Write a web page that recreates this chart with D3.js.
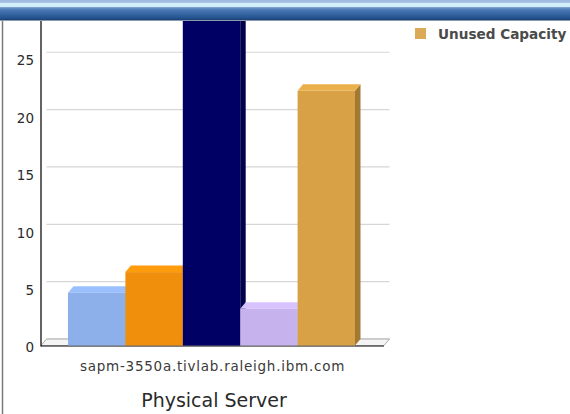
<!DOCTYPE html>
<html>
<head>
<meta charset="utf-8">
<script src="https://cdn.jsdelivr.net/npm/d3@7"></script>
<style>
  html, body { margin: 0; padding: 0; background: #ffffff; }
  svg { display: block; }
</style>
</head>
<body>
<svg id="chart" width="570" height="414"></svg>
<script>
// ---- data ----
const categories = ["sapm-3550a.tivlab.raleigh.ibm.com"];
const seriesKeys = ["s1", "s2", "s3", "s4", "Unused Capacity"];
const seriesValues = [4.6, 6.4, 36, 3.2, 22.2];
const seriesColors = ["#8db0ea", "#f08f0c", "#000064", "#c6b2ec", "#d8a145"];
const legendItems = ["Unused Capacity"];
const yTicks = [0, 5, 10, 15, 20, 25];
const xAxisTitle = "Physical Server";

// ---- layout ----
const W = 570, H = 414;
const front = { left: 41, right: 384, bottom: 345.5 };
const depth = { dx: 5.5, dy: 6.5 };
const svg = d3.select("#chart");

const y = d3.scaleLinear().domain([0, 25]).range([front.bottom, front.bottom - 25 * 11.47]);
const x = d3.scaleBand().domain(categories).range([front.left, front.right]);
const xs = d3.scaleBand().domain(seriesKeys)
  .range([x(categories[0]) + 27, x(categories[0]) + x.bandwidth() - 29]).padding(0);

const chartG = svg.append("g");

// back wall gridlines
chartG.append("g").selectAll("line").data(yTicks).join("line")
  .attr("x1", front.left + depth.dx).attr("x2", front.right + depth.dx)
  .attr("y1", d => y(d) - depth.dy).attr("y2", d => y(d) - depth.dy)
  .attr("stroke", "#d6d6d6").attr("stroke-width", 1.2);

// floor
const x0 = front.left, x1 = front.right, yb = front.bottom;
chartG.append("path")
  .attr("d", `M${x0},${yb} L${x1},${yb} L${x1 + depth.dx},${yb - depth.dy} L${x0 + depth.dx},${yb - depth.dy} Z`)
  .attr("fill", "#f4f4f4").attr("stroke", "#9a9a9a").attr("stroke-width", 0.8);
chartG.append("line")
  .attr("x1", x0).attr("x2", x1).attr("y1", yb + 0.5).attr("y2", yb + 0.5)
  .attr("stroke", "#555").attr("stroke-width", 1.3);

// 3D bars
seriesKeys.forEach((k, i) => {
  const v = seriesValues[i];
  const bx = xs(k), bw = xs.bandwidth();
  const top = y(v), base = y(0);
  const c = d3.color(seriesColors[i]);
  const g = chartG.append("g");
  // side face
  g.append("path")
    .attr("d", `M${bx + bw},${base} L${bx + bw + depth.dx},${base - depth.dy} L${bx + bw + depth.dx},${top - depth.dy} L${bx + bw},${top} Z`)
    .attr("fill", c.darker(0.8));
  // top face
  g.append("path")
    .attr("d", `M${bx},${top} L${bx + depth.dx},${top - depth.dy} L${bx + bw + depth.dx},${top - depth.dy} L${bx + bw},${top} Z`)
    .attr("fill", c.brighter(0.25));
  // front face
  g.append("rect")
    .attr("x", bx).attr("y", top).attr("width", bw).attr("height", base - top)
    .attr("fill", c);
});

// y axis line
chartG.append("line")
  .attr("x1", front.left).attr("x2", front.left)
  .attr("y1", 0).attr("y2", front.bottom + 1)
  .attr("stroke", "#222").attr("stroke-width", 1.4);

// y tick labels
chartG.append("g").selectAll("text").data(yTicks).join("text")
  .attr("x", 34).attr("y", d => y(d) + 2)
  .attr("dy", "0.35em")
  .attr("text-anchor", "end")
  .attr("font-family", "DejaVu Sans, sans-serif")
  .attr("font-size", 13.5)
  .attr("fill", "#2a2a2a")
  .text(d => d);

// category label
chartG.append("g").selectAll("text").data(categories).join("text")
  .attr("x", d => x(d) + x.bandwidth() / 2)
  .attr("y", 371)
  .attr("text-anchor", "middle")
  .attr("font-family", "DejaVu Sans, sans-serif")
  .attr("font-size", 13.5)
  .attr("letter-spacing", 0.75)
  .attr("fill", "#3a3a3a")
  .text(d => d);

// axis title
chartG.append("text")
  .attr("x", 214).attr("y", 407)
  .attr("text-anchor", "middle")
  .attr("font-family", "DejaVu Sans, sans-serif")
  .attr("font-size", 19)
  .attr("fill", "#2a2a2a")
  .text(xAxisTitle);

// legend
const lg = chartG.append("g").selectAll("g").data(legendItems).join("g")
  .attr("transform", (d, i) => `translate(415, ${28 + i * 18})`);
lg.append("rect").attr("width", 11).attr("height", 11)
  .attr("fill", d => seriesColors[seriesKeys.indexOf(d)]).attr("opacity", 0.9);
lg.append("text").attr("x", 23).attr("y", 10.5)
  .attr("font-family", "DejaVu Sans, sans-serif")
  .attr("font-size", 13.6).attr("font-weight", "bold")
  .attr("fill", "#4a4a4a")
  .text(d => d);

// window frame: left edge
svg.append("line").attr("x1", 2.5).attr("x2", 2.5).attr("y1", 20).attr("y2", H)
  .attr("stroke", "#7a7a7a").attr("stroke-width", 1.5);

// window title bar
const defs = svg.append("defs");
const grad = defs.append("linearGradient").attr("id", "titlebar")
  .attr("x1", 0).attr("x2", 0).attr("y1", 0).attr("y2", 1);
[
  [0, "#9fb8de"], [0.14, "#a9c3e6"], [0.16, "#d6f1fa"], [0.34, "#cfeefa"],
  [0.38, "#6f97c9"], [0.5, "#4a78b4"], [0.9, "#24528f"], [1, "#1c3f70"]
].forEach(([o, c]) => grad.append("stop").attr("offset", o).attr("stop-color", c));
svg.append("rect").attr("x", 0).attr("y", 0).attr("width", W).attr("height", 20)
  .attr("fill", "url(#titlebar)");
svg.append("line").attr("x1", 0).attr("x2", W).attr("y1", 20.5).attr("y2", 20.5)
  .attr("stroke", "#8a9ab0").attr("stroke-width", 1);
</script>
</body>
</html>
